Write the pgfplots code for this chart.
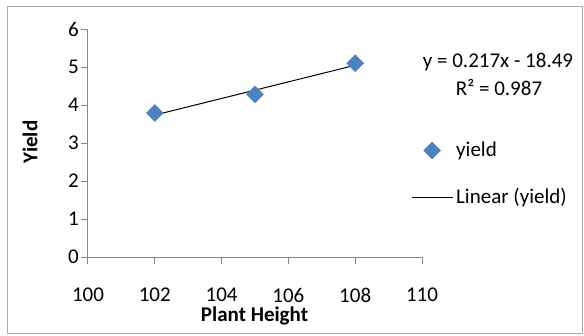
\documentclass[border=0pt]{standalone}
\usepackage{pgfplots}
\pgfplotsset{compat=1.18}
\usepackage{fontspec}
\setmainfont{Carlito}
\definecolor{excelblue}{HTML}{4F81BD}
\definecolor{axgray}{HTML}{868686}
\pgfplotsset{
  markleg/.style={legend image code/.code={\draw[##1] plot coordinates {(20.5pt,0pt)};}},
  lineleg/.style={legend image code/.code={\draw[##1] (0pt,0pt) -- (41pt,0pt);}},
}
\begin{document}
\fontsize{21}{25}\selectfont
\begin{tikzpicture}[x=1pt,y=1pt]
\path (-88,-78) rectangle (496,257);
\draw[axgray!70, line width=1pt] (-80,250) rectangle (494,-76);
\begin{axis}[
  scale only axis, width=334pt, height=228pt,
  at={(0,0)}, anchor=south west,
  xmin=100, xmax=110, ymin=0, ymax=6,
  xtick={100,102,...,110}, ytick={0,1,...,6},
  axis lines*=left,
  axis line style={axgray, line width=1pt},
  tick style={axgray, line width=1pt},
  tick align=outside, major tick length=7pt,
  /pgf/number format/assume math mode=true,
  ticklabel style={font=\fontsize{21}{25}\selectfont},
  xticklabel shift=17pt,
  yticklabel style={inner sep=2pt},
  legend style={draw=none, fill=none, at={(axis description cs:0.967,0.52)}, anchor=north west,
    font=\fontsize{21}{25}\selectfont, row sep=23pt, inner sep=0pt,
    nodes={inner sep=3pt}},
  legend cell align=left,
]
\addplot[only marks, mark=square*, mark size=6pt, mark options={rotate=45}, color=excelblue, markleg]
  coordinates {(102,3.79) (105,4.28) (108,5.10)};
\addlegendentry{yield}
\addplot[black, line width=1pt, no marks, lineleg]
  coordinates {(102,3.736) (108,5.046)};
\addlegendentry{Linear (yield)}
\end{axis}
\node at (410,195) {y = 0.217x - 18.49};
\node at (411,170) {R² = 0.987};
\node[rotate=90, font=\bfseries] at (-58,115) {Yield};
\node[font=\bfseries] at (166.5,-59) {Plant Height};
\end{tikzpicture}
\end{document}
